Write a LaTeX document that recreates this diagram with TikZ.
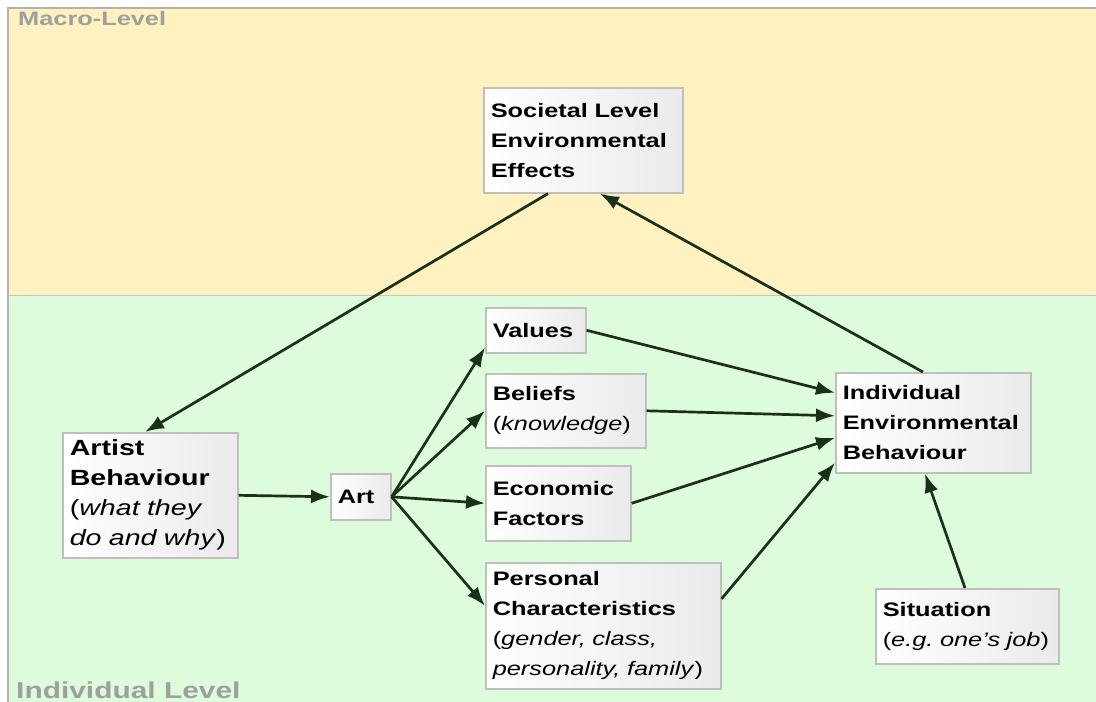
\documentclass[tikz,border=0pt]{standalone}
\usepackage{fontspec}
\setmainfont{Liberation Sans}[FakeStretch=1.3]
\usepackage{tikz}
\usetikzlibrary{arrows.meta}
\usetikzlibrary{positioning}

\definecolor{macrofill}{RGB}{255,242,192}
\definecolor{indivfill}{RGB}{221,252,219}
\definecolor{arrowgreen}{RGB}{26,48,26}
\newcommand\boxfont{\fontsize{19.5}{30}\selectfont\bfseries}
\newcommand\paren[1]{{\mdseries(\textit{#1})}}

\tikzset{
  box/.style={draw=gray!50,line width=1.6pt,left color=white,right color=gray!16,
    anchor=north west,align=left,inner xsep=7pt,inner ysep=3pt,font=\boxfont},
  flow/.style={draw=arrowgreen,line width=2.7pt,-{Latex[length=19pt,width=14pt]}},
  levellabel/.style={anchor=west,text=gray!75,inner sep=0pt}
}

\begin{document}
\begin{tikzpicture}[x=1pt,y=-1pt]
  \useasboundingbox (0,0) rectangle (1096,702);
  % the two levels
  \fill[macrofill] (8,8) rectangle (1096,295);
  \fill[indivfill] (8,295) rectangle (1096,702);
  \draw[gray!45,line width=1pt] (8,295) -- (1096,295);
  \draw[gray!60,line width=1.5pt] (8,702) -- (8,8) -- (1096,8);
  \node[levellabel,font=\fontsize{19.5}{24}\selectfont\bfseries] (macro) at (18,19) {Macro-Level};
  \node[levellabel,font=\fontsize{23}{26}\selectfont\bfseries] (indiv) at (16,690) {Individual Level};

  % boxes
  \node[box,text width=185pt,minimum height=105pt] (soc) at (483,87) {Societal Level\\Environmental\\Effects};
  \node[box,text width=86pt,minimum height=45pt] (val) at (485,307) {Values};
  \node[box,text width=146pt,minimum height=74pt] (bel) at (485,373) {Beliefs\\\paren{knowledge}};
  \node[box,text width=131pt,minimum height=75pt] (eco) at (485,465) {Economic\\Factors};
  \node[box,text width=221pt,minimum height=126pt] (per) at (485,562) {Personal\\Characteristics\\\paren{gender, class,\\personality, family}};
  \node[box,text width=46pt,minimum height=46pt] (art) at (330,473) {Art};
  \node[box,text width=161pt,minimum height=125pt,font=\fontsize{22}{30}\selectfont\bfseries] (ab) at (62,432) {Artist\\Behaviour\\\paren{what they\\do and why}};
  \node[box,text width=181pt,minimum height=100pt] (ieb) at (835,372) {Individual\\Environmental\\Behaviour};
  \node[box,text width=169pt,minimum height=75pt] (sit) at (875,588) {Situation\\\paren{e.g.\ one's job}};

  % connectors
  \draw[flow] ([xshift=65pt]soc.south west) -- ([xshift=83pt]ab.north west);
  \draw[flow] ([xshift=88pt]ieb.north west) -- ([xshift=117pt]soc.south west);
  \draw[flow] (ab.east) -- (art.west);
  \draw[flow] (art.east) -- ([yshift=6pt]val.south west);
  \draw[flow] (art.east) -- (bel.west);
  \draw[flow] (art.east) -- (eco.west);
  \draw[flow] (art.east) -- ([yshift=20pt]per.west);
  \draw[flow] (val.east) -- ([yshift=30pt]ieb.west);
  \draw[flow] (bel.east) -- ([yshift=7pt]ieb.west);
  \draw[flow] (eco.east) -- ([yshift=-15pt]ieb.west);
  \draw[flow] ([yshift=27pt]per.east) -- ([yshift=-40pt]ieb.west);
  \draw[flow] ([xshift=90pt]sit.north west) -- ([xshift=90pt]ieb.south west);
\end{tikzpicture}
\end{document}
